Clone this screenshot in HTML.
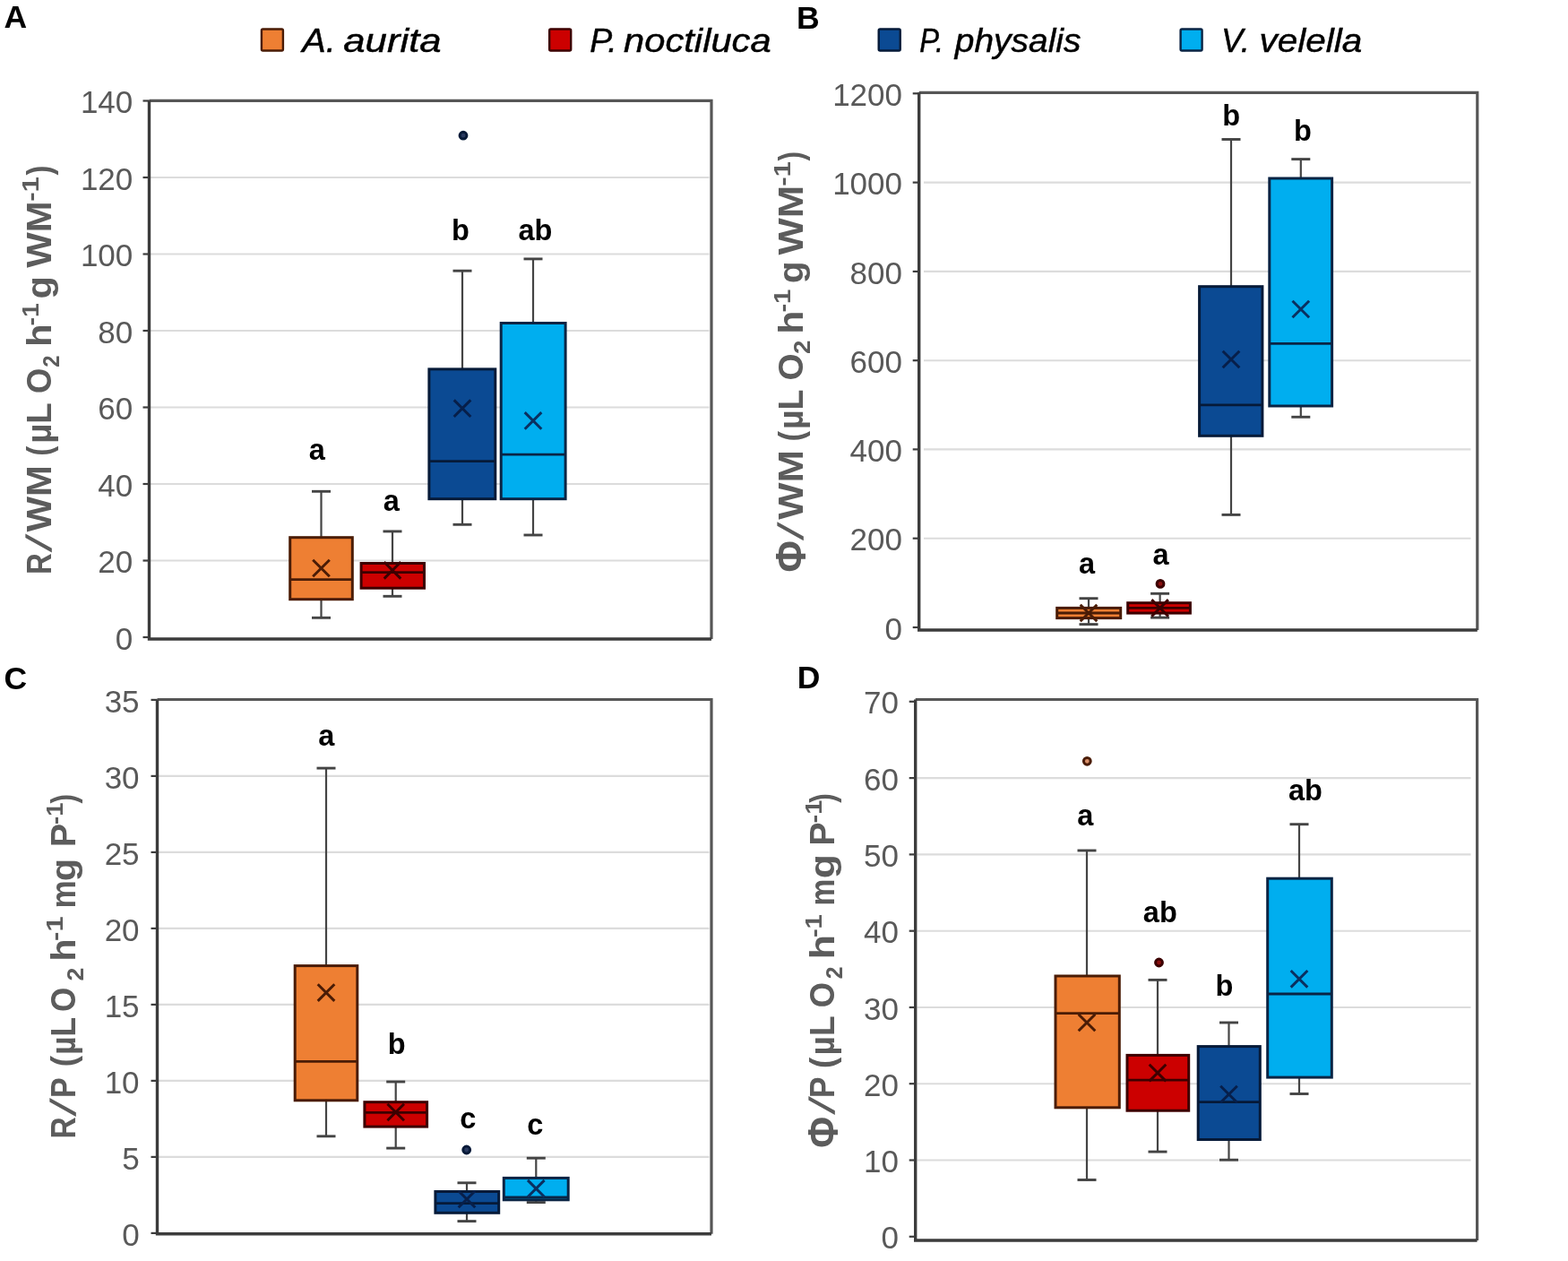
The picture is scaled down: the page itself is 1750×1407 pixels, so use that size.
<!DOCTYPE html>
<html><head><meta charset="utf-8"><title>Figure</title>
<style>
html,body{margin:0;padding:0;background:#fff;}
body{width:1750px;height:1407px;overflow:hidden;}
svg{display:block;}
text{font-family:'Liberation Sans', Arial, sans-serif;}
.tk{font-size:35px;fill:#595959;text-anchor:end;}
.sig{font-size:32.5px;font-weight:bold;fill:#000;text-anchor:middle;}
.leg{font-size:37px;font-style:italic;fill:#000;stroke:#000;stroke-width:0.45px;}
.pl{font-size:35.5px;font-weight:bold;fill:#000;}
.yt{font-size:39.5px;font-weight:bold;fill:#5c5c5c;}
</style></head>
<body>
<svg width="1750" height="1407" viewBox="0 0 1750 1407">
<rect width="1750" height="1407" fill="#fff"/>
<line x1="168.0" y1="625.5" x2="791.5" y2="625.5" stroke="#DCDCDC" stroke-width="2.1"/>
<line x1="168.0" y1="540.0" x2="791.5" y2="540.0" stroke="#DCDCDC" stroke-width="2.1"/>
<line x1="168.0" y1="454.5" x2="791.5" y2="454.5" stroke="#DCDCDC" stroke-width="2.1"/>
<line x1="168.0" y1="369.0" x2="791.5" y2="369.0" stroke="#DCDCDC" stroke-width="2.1"/>
<line x1="168.0" y1="283.5" x2="791.5" y2="283.5" stroke="#DCDCDC" stroke-width="2.1"/>
<line x1="168.0" y1="198.0" x2="791.5" y2="198.0" stroke="#DCDCDC" stroke-width="2.1"/>
<line x1="1031.0" y1="600.7" x2="1641.5" y2="600.7" stroke="#DCDCDC" stroke-width="2.1"/>
<line x1="1031.0" y1="501.4" x2="1641.5" y2="501.4" stroke="#DCDCDC" stroke-width="2.1"/>
<line x1="1031.0" y1="402.2" x2="1641.5" y2="402.2" stroke="#DCDCDC" stroke-width="2.1"/>
<line x1="1031.0" y1="302.9" x2="1641.5" y2="302.9" stroke="#DCDCDC" stroke-width="2.1"/>
<line x1="1031.0" y1="203.6" x2="1641.5" y2="203.6" stroke="#DCDCDC" stroke-width="2.1"/>
<line x1="177.0" y1="1290.9" x2="791.5" y2="1290.9" stroke="#DCDCDC" stroke-width="2.1"/>
<line x1="177.0" y1="1205.9" x2="791.5" y2="1205.9" stroke="#DCDCDC" stroke-width="2.1"/>
<line x1="177.0" y1="1120.9" x2="791.5" y2="1120.9" stroke="#DCDCDC" stroke-width="2.1"/>
<line x1="177.0" y1="1035.9" x2="791.5" y2="1035.9" stroke="#DCDCDC" stroke-width="2.1"/>
<line x1="177.0" y1="950.9" x2="791.5" y2="950.9" stroke="#DCDCDC" stroke-width="2.1"/>
<line x1="177.0" y1="865.9" x2="791.5" y2="865.9" stroke="#DCDCDC" stroke-width="2.1"/>
<line x1="1023.5" y1="1294.5" x2="1641.5" y2="1294.5" stroke="#DCDCDC" stroke-width="2.1"/>
<line x1="1023.5" y1="1209.2" x2="1641.5" y2="1209.2" stroke="#DCDCDC" stroke-width="2.1"/>
<line x1="1023.5" y1="1124.0" x2="1641.5" y2="1124.0" stroke="#DCDCDC" stroke-width="2.1"/>
<line x1="1023.5" y1="1038.7" x2="1641.5" y2="1038.7" stroke="#DCDCDC" stroke-width="2.1"/>
<line x1="1023.5" y1="953.4" x2="1641.5" y2="953.4" stroke="#DCDCDC" stroke-width="2.1"/>
<line x1="1023.5" y1="868.1" x2="1641.5" y2="868.1" stroke="#DCDCDC" stroke-width="2.1"/>
<path d="M166.5 112.3 H794.0 V713.0" fill="none" stroke="#565656" stroke-width="3.2"/>
<path d="M166.5 112.3 V713.0 H794.0" fill="none" stroke="#3C3C3C" stroke-width="3.4"/>
<line x1="159.5" y1="711.0" x2="166.5" y2="711.0" stroke="#3C3C3C" stroke-width="2.2"/>
<text x="148.3" y="724.6" class="tk">0</text>
<line x1="159.5" y1="625.5" x2="166.5" y2="625.5" stroke="#3C3C3C" stroke-width="2.2"/>
<text x="148.3" y="639.1" class="tk">20</text>
<line x1="159.5" y1="540.0" x2="166.5" y2="540.0" stroke="#3C3C3C" stroke-width="2.2"/>
<text x="148.3" y="553.6" class="tk">40</text>
<line x1="159.5" y1="454.5" x2="166.5" y2="454.5" stroke="#3C3C3C" stroke-width="2.2"/>
<text x="148.3" y="468.1" class="tk">60</text>
<line x1="159.5" y1="369.0" x2="166.5" y2="369.0" stroke="#3C3C3C" stroke-width="2.2"/>
<text x="148.3" y="382.6" class="tk">80</text>
<line x1="159.5" y1="283.5" x2="166.5" y2="283.5" stroke="#3C3C3C" stroke-width="2.2"/>
<text x="148.3" y="297.1" class="tk">100</text>
<line x1="159.5" y1="198.0" x2="166.5" y2="198.0" stroke="#3C3C3C" stroke-width="2.2"/>
<text x="148.3" y="211.6" class="tk">120</text>
<line x1="159.5" y1="112.5" x2="166.5" y2="112.5" stroke="#3C3C3C" stroke-width="2.2"/>
<text x="148.3" y="126.1" class="tk">140</text>
<path d="M1025.7 103.3 H1648.8 V703.0" fill="none" stroke="#565656" stroke-width="3.2"/>
<path d="M1025.7 103.3 V703.0 H1648.8" fill="none" stroke="#3C3C3C" stroke-width="3.4"/>
<line x1="1018.7" y1="700.0" x2="1025.7" y2="700.0" stroke="#3C3C3C" stroke-width="2.2"/>
<text x="1007.0" y="713.6" class="tk">0</text>
<line x1="1018.7" y1="600.7" x2="1025.7" y2="600.7" stroke="#3C3C3C" stroke-width="2.2"/>
<text x="1007.0" y="614.3" class="tk">200</text>
<line x1="1018.7" y1="501.4" x2="1025.7" y2="501.4" stroke="#3C3C3C" stroke-width="2.2"/>
<text x="1007.0" y="515.0" class="tk">400</text>
<line x1="1018.7" y1="402.2" x2="1025.7" y2="402.2" stroke="#3C3C3C" stroke-width="2.2"/>
<text x="1007.0" y="415.8" class="tk">600</text>
<line x1="1018.7" y1="302.9" x2="1025.7" y2="302.9" stroke="#3C3C3C" stroke-width="2.2"/>
<text x="1007.0" y="316.5" class="tk">800</text>
<line x1="1018.7" y1="203.6" x2="1025.7" y2="203.6" stroke="#3C3C3C" stroke-width="2.2"/>
<text x="1007.0" y="217.2" class="tk">1000</text>
<line x1="1018.7" y1="104.3" x2="1025.7" y2="104.3" stroke="#3C3C3C" stroke-width="2.2"/>
<text x="1007.0" y="117.9" class="tk">1200</text>
<path d="M175.5 780.5 H794.0 V1376.7" fill="none" stroke="#565656" stroke-width="3.2"/>
<path d="M175.5 780.5 V1376.7 H794.0" fill="none" stroke="#3C3C3C" stroke-width="3.4"/>
<line x1="168.5" y1="1375.9" x2="175.5" y2="1375.9" stroke="#3C3C3C" stroke-width="2.2"/>
<text x="155.6" y="1389.5" class="tk">0</text>
<line x1="168.5" y1="1290.9" x2="175.5" y2="1290.9" stroke="#3C3C3C" stroke-width="2.2"/>
<text x="155.6" y="1304.5" class="tk">5</text>
<line x1="168.5" y1="1205.9" x2="175.5" y2="1205.9" stroke="#3C3C3C" stroke-width="2.2"/>
<text x="155.6" y="1219.5" class="tk">10</text>
<line x1="168.5" y1="1120.9" x2="175.5" y2="1120.9" stroke="#3C3C3C" stroke-width="2.2"/>
<text x="155.6" y="1134.5" class="tk">15</text>
<line x1="168.5" y1="1035.9" x2="175.5" y2="1035.9" stroke="#3C3C3C" stroke-width="2.2"/>
<text x="155.6" y="1049.5" class="tk">20</text>
<line x1="168.5" y1="950.9" x2="175.5" y2="950.9" stroke="#3C3C3C" stroke-width="2.2"/>
<text x="155.6" y="964.5" class="tk">25</text>
<line x1="168.5" y1="865.9" x2="175.5" y2="865.9" stroke="#3C3C3C" stroke-width="2.2"/>
<text x="155.6" y="879.5" class="tk">30</text>
<line x1="168.5" y1="780.9" x2="175.5" y2="780.9" stroke="#3C3C3C" stroke-width="2.2"/>
<text x="155.6" y="794.5" class="tk">35</text>
<path d="M1021.7 780.5 H1648.6 V1384.0" fill="none" stroke="#565656" stroke-width="3.2"/>
<path d="M1021.7 780.5 V1384.0 H1648.6" fill="none" stroke="#3C3C3C" stroke-width="3.4"/>
<line x1="1014.7" y1="1379.8" x2="1021.7" y2="1379.8" stroke="#3C3C3C" stroke-width="2.2"/>
<text x="1003.0" y="1393.4" class="tk">0</text>
<line x1="1014.7" y1="1294.5" x2="1021.7" y2="1294.5" stroke="#3C3C3C" stroke-width="2.2"/>
<text x="1003.0" y="1308.1" class="tk">10</text>
<line x1="1014.7" y1="1209.2" x2="1021.7" y2="1209.2" stroke="#3C3C3C" stroke-width="2.2"/>
<text x="1003.0" y="1222.8" class="tk">20</text>
<line x1="1014.7" y1="1124.0" x2="1021.7" y2="1124.0" stroke="#3C3C3C" stroke-width="2.2"/>
<text x="1003.0" y="1137.6" class="tk">30</text>
<line x1="1014.7" y1="1038.7" x2="1021.7" y2="1038.7" stroke="#3C3C3C" stroke-width="2.2"/>
<text x="1003.0" y="1052.3" class="tk">40</text>
<line x1="1014.7" y1="953.4" x2="1021.7" y2="953.4" stroke="#3C3C3C" stroke-width="2.2"/>
<text x="1003.0" y="967.0" class="tk">50</text>
<line x1="1014.7" y1="868.1" x2="1021.7" y2="868.1" stroke="#3C3C3C" stroke-width="2.2"/>
<text x="1003.0" y="881.7" class="tk">60</text>
<line x1="1014.7" y1="782.8" x2="1021.7" y2="782.8" stroke="#3C3C3C" stroke-width="2.2"/>
<text x="1003.0" y="796.4" class="tk">70</text>
<line x1="358.5" y1="599.0" x2="358.5" y2="548.3" stroke="#444444" stroke-width="2.2"/>
<line x1="358.5" y1="669.4" x2="358.5" y2="689.3" stroke="#444444" stroke-width="2.2"/>
<line x1="348.0" y1="548.3" x2="369.0" y2="548.3" stroke="#444444" stroke-width="2.9"/>
<line x1="348.0" y1="689.3" x2="369.0" y2="689.3" stroke="#444444" stroke-width="2.9"/>
<rect x="323.7" y="599.7" width="69.6" height="69.0" fill="#EE7F33" stroke="#4A1C06" stroke-width="3.0"/>
<line x1="323.7" y1="646.6" x2="393.3" y2="646.6" stroke="#4A1C06" stroke-width="2.8"/>
<path d="M349.2 624.7 L367.8 643.3 M367.8 624.7 L349.2 643.3" stroke="#4A1C06" stroke-width="3" fill="none"/>
<line x1="438.0" y1="627.8" x2="438.0" y2="592.9" stroke="#444444" stroke-width="2.2"/>
<line x1="438.0" y1="656.9" x2="438.0" y2="665.3" stroke="#444444" stroke-width="2.2"/>
<line x1="427.5" y1="592.9" x2="448.5" y2="592.9" stroke="#444444" stroke-width="2.9"/>
<line x1="427.5" y1="665.3" x2="448.5" y2="665.3" stroke="#444444" stroke-width="2.9"/>
<rect x="403.1" y="628.5" width="70.4" height="27.7" fill="#CC0000" stroke="#3C0000" stroke-width="3.0"/>
<line x1="403.1" y1="638.6" x2="473.5" y2="638.6" stroke="#3C0000" stroke-width="2.8"/>
<path d="M428.7 627.0 L447.3 645.6 M447.3 627.0 L428.7 645.6" stroke="#3C0000" stroke-width="3" fill="none"/>
<line x1="516.0" y1="411.2" x2="516.0" y2="302.2" stroke="#444444" stroke-width="2.2"/>
<line x1="516.0" y1="557.4" x2="516.0" y2="585.3" stroke="#444444" stroke-width="2.2"/>
<line x1="505.5" y1="302.2" x2="526.5" y2="302.2" stroke="#444444" stroke-width="2.9"/>
<line x1="505.5" y1="585.3" x2="526.5" y2="585.3" stroke="#444444" stroke-width="2.9"/>
<rect x="478.9" y="411.9" width="73.9" height="144.8" fill="#0B4A93" stroke="#061A38" stroke-width="3.0"/>
<line x1="478.9" y1="514.7" x2="552.8" y2="514.7" stroke="#061A38" stroke-width="2.8"/>
<path d="M506.7 446.4 L525.3 465.0 M525.3 446.4 L506.7 465.0" stroke="#071F4A" stroke-width="3" fill="none"/>
<circle cx="517.0" cy="151.2" r="3.9" fill="#2A3A60" stroke="#061A38" stroke-width="3"/>
<line x1="595.0" y1="359.8" x2="595.0" y2="288.9" stroke="#444444" stroke-width="2.2"/>
<line x1="595.0" y1="557.4" x2="595.0" y2="597.0" stroke="#444444" stroke-width="2.2"/>
<line x1="584.5" y1="288.9" x2="605.5" y2="288.9" stroke="#444444" stroke-width="2.9"/>
<line x1="584.5" y1="597.0" x2="605.5" y2="597.0" stroke="#444444" stroke-width="2.9"/>
<rect x="559.2" y="360.5" width="71.9" height="196.2" fill="#00AEEF" stroke="#0A2444" stroke-width="3.0"/>
<line x1="559.2" y1="507.1" x2="631.1" y2="507.1" stroke="#0A2444" stroke-width="2.8"/>
<path d="M585.7 460.1 L604.3 478.7 M604.3 460.1 L585.7 478.7" stroke="#0A3060" stroke-width="3" fill="none"/>
<text x="353.7" y="512.9" class="sig">a</text>
<text x="436.8" y="570.0" class="sig">a</text>
<text x="514.0" y="267.9" class="sig">b</text>
<text x="597.5" y="267.9" class="sig">ab</text>
<line x1="1215.0" y1="677.7" x2="1215.0" y2="667.7" stroke="#444444" stroke-width="2.2"/>
<line x1="1215.0" y1="690.3" x2="1215.0" y2="696.6" stroke="#444444" stroke-width="2.2"/>
<line x1="1204.5" y1="667.7" x2="1225.5" y2="667.7" stroke="#444444" stroke-width="2.9"/>
<line x1="1204.5" y1="696.6" x2="1225.5" y2="696.6" stroke="#444444" stroke-width="2.9"/>
<rect x="1179.7" y="678.4" width="71.0" height="11.2" fill="#EE7F33" stroke="#4A1C06" stroke-width="3.0"/>
<line x1="1179.7" y1="684.0" x2="1250.7" y2="684.0" stroke="#4A1C06" stroke-width="2.8"/>
<path d="M1205.7 674.7 L1224.3 693.3 M1224.3 674.7 L1205.7 693.3" stroke="#4A1C06" stroke-width="3" fill="none"/>
<line x1="1294.6" y1="672.0" x2="1294.6" y2="662.3" stroke="#444444" stroke-width="2.2"/>
<line x1="1294.6" y1="684.8" x2="1294.6" y2="689.1" stroke="#444444" stroke-width="2.2"/>
<line x1="1284.1" y1="662.3" x2="1305.1" y2="662.3" stroke="#444444" stroke-width="2.9"/>
<line x1="1284.1" y1="689.1" x2="1305.1" y2="689.1" stroke="#444444" stroke-width="2.9"/>
<rect x="1258.7" y="672.7" width="69.7" height="11.4" fill="#CC0000" stroke="#3C0000" stroke-width="3.0"/>
<line x1="1258.7" y1="678.4" x2="1328.4" y2="678.4" stroke="#3C0000" stroke-width="2.8"/>
<path d="M1285.3 669.1 L1303.9 687.7 M1303.9 669.1 L1285.3 687.7" stroke="#3C0000" stroke-width="3" fill="none"/>
<circle cx="1295.0" cy="651.4" r="3.9" fill="#8A1010" stroke="#3C0000" stroke-width="3"/>
<line x1="1374.0" y1="319.0" x2="1374.0" y2="155.5" stroke="#444444" stroke-width="2.2"/>
<line x1="1374.0" y1="487.0" x2="1374.0" y2="574.4" stroke="#444444" stroke-width="2.2"/>
<line x1="1363.5" y1="155.5" x2="1384.5" y2="155.5" stroke="#444444" stroke-width="2.9"/>
<line x1="1363.5" y1="574.4" x2="1384.5" y2="574.4" stroke="#444444" stroke-width="2.9"/>
<rect x="1338.6" y="319.7" width="70.3" height="166.6" fill="#0B4A93" stroke="#061A38" stroke-width="3.0"/>
<line x1="1338.6" y1="451.8" x2="1408.9" y2="451.8" stroke="#061A38" stroke-width="2.8"/>
<path d="M1364.7 391.7 L1383.3 410.3 M1383.3 391.7 L1364.7 410.3" stroke="#071F4A" stroke-width="3" fill="none"/>
<line x1="1451.8" y1="198.3" x2="1451.8" y2="177.6" stroke="#444444" stroke-width="2.2"/>
<line x1="1451.8" y1="453.7" x2="1451.8" y2="465.3" stroke="#444444" stroke-width="2.2"/>
<line x1="1441.3" y1="177.6" x2="1462.3" y2="177.6" stroke="#444444" stroke-width="2.9"/>
<line x1="1441.3" y1="465.3" x2="1462.3" y2="465.3" stroke="#444444" stroke-width="2.9"/>
<rect x="1416.8" y="199.0" width="69.8" height="254.0" fill="#00AEEF" stroke="#0A2444" stroke-width="3.0"/>
<line x1="1416.8" y1="383.4" x2="1486.6" y2="383.4" stroke="#0A2444" stroke-width="2.8"/>
<path d="M1442.5 335.7 L1461.1 354.3 M1461.1 335.7 L1442.5 354.3" stroke="#0A3060" stroke-width="3" fill="none"/>
<text x="1213.0" y="640.0" class="sig">a</text>
<text x="1295.5" y="629.7" class="sig">a</text>
<text x="1374.3" y="139.7" class="sig">b</text>
<text x="1454.0" y="157.3" class="sig">b</text>
<line x1="364.0" y1="1076.9" x2="364.0" y2="857.1" stroke="#444444" stroke-width="2.2"/>
<line x1="364.0" y1="1228.5" x2="364.0" y2="1267.8" stroke="#444444" stroke-width="2.2"/>
<line x1="353.5" y1="857.1" x2="374.5" y2="857.1" stroke="#444444" stroke-width="2.9"/>
<line x1="353.5" y1="1267.8" x2="374.5" y2="1267.8" stroke="#444444" stroke-width="2.9"/>
<rect x="329.2" y="1077.6" width="69.6" height="150.2" fill="#EE7F33" stroke="#4A1C06" stroke-width="3.0"/>
<line x1="329.2" y1="1184.4" x2="398.8" y2="1184.4" stroke="#4A1C06" stroke-width="2.8"/>
<path d="M354.7 1098.3 L373.3 1116.9 M373.3 1098.3 L354.7 1116.9" stroke="#4A1C06" stroke-width="3" fill="none"/>
<line x1="441.7" y1="1229.0" x2="441.7" y2="1207.0" stroke="#444444" stroke-width="2.2"/>
<line x1="441.7" y1="1257.8" x2="441.7" y2="1281.1" stroke="#444444" stroke-width="2.2"/>
<line x1="431.2" y1="1207.0" x2="452.2" y2="1207.0" stroke="#444444" stroke-width="2.9"/>
<line x1="431.2" y1="1281.1" x2="452.2" y2="1281.1" stroke="#444444" stroke-width="2.9"/>
<rect x="406.9" y="1229.7" width="69.7" height="27.4" fill="#CC0000" stroke="#3C0000" stroke-width="3.0"/>
<line x1="406.9" y1="1241.4" x2="476.6" y2="1241.4" stroke="#3C0000" stroke-width="2.8"/>
<path d="M432.4 1231.7 L451.0 1250.3 M451.0 1231.7 L432.4 1250.3" stroke="#3C0000" stroke-width="3" fill="none"/>
<line x1="521.0" y1="1328.8" x2="521.0" y2="1319.8" stroke="#444444" stroke-width="2.2"/>
<line x1="521.0" y1="1354.0" x2="521.0" y2="1362.6" stroke="#444444" stroke-width="2.2"/>
<line x1="510.5" y1="1319.8" x2="531.5" y2="1319.8" stroke="#444444" stroke-width="2.9"/>
<line x1="510.5" y1="1362.6" x2="531.5" y2="1362.6" stroke="#444444" stroke-width="2.9"/>
<rect x="485.9" y="1329.5" width="70.8" height="23.8" fill="#0B4A93" stroke="#061A38" stroke-width="3.0"/>
<line x1="485.9" y1="1342.6" x2="556.7" y2="1342.6" stroke="#061A38" stroke-width="2.8"/>
<path d="M511.7 1328.7 L530.3 1347.3 M530.3 1328.7 L511.7 1347.3" stroke="#071F4A" stroke-width="3" fill="none"/>
<circle cx="520.7" cy="1283.0" r="3.9" fill="#2A3A60" stroke="#061A38" stroke-width="3"/>
<line x1="598.3" y1="1313.7" x2="598.3" y2="1292.2" stroke="#444444" stroke-width="2.2"/>
<line x1="598.3" y1="1339.5" x2="598.3" y2="1341.6" stroke="#444444" stroke-width="2.2"/>
<line x1="587.8" y1="1292.2" x2="608.8" y2="1292.2" stroke="#444444" stroke-width="2.9"/>
<line x1="587.8" y1="1341.6" x2="608.8" y2="1341.6" stroke="#444444" stroke-width="2.9"/>
<rect x="562.3" y="1314.4" width="71.9" height="24.4" fill="#00AEEF" stroke="#0A2444" stroke-width="3.0"/>
<line x1="562.3" y1="1335.8" x2="634.2" y2="1335.8" stroke="#0A2444" stroke-width="2.8"/>
<path d="M589.0 1316.9 L607.6 1335.5 M607.6 1316.9 L589.0 1335.5" stroke="#0A3060" stroke-width="3" fill="none"/>
<text x="364.4" y="832.4" class="sig">a</text>
<text x="442.8" y="1176.1" class="sig">b</text>
<text x="522.3" y="1259.3" class="sig">c</text>
<text x="597.3" y="1266.4" class="sig">c</text>
<line x1="1213.0" y1="1088.3" x2="1213.0" y2="949.0" stroke="#444444" stroke-width="2.2"/>
<line x1="1213.0" y1="1236.5" x2="1213.0" y2="1316.5" stroke="#444444" stroke-width="2.2"/>
<line x1="1202.5" y1="949.0" x2="1223.5" y2="949.0" stroke="#444444" stroke-width="2.9"/>
<line x1="1202.5" y1="1316.5" x2="1223.5" y2="1316.5" stroke="#444444" stroke-width="2.9"/>
<rect x="1178.0" y="1089.0" width="71.3" height="146.8" fill="#EE7F33" stroke="#4A1C06" stroke-width="3.0"/>
<line x1="1178.0" y1="1130.6" x2="1249.3" y2="1130.6" stroke="#4A1C06" stroke-width="2.8"/>
<path d="M1203.7 1131.7 L1222.3 1150.3 M1222.3 1131.7 L1203.7 1150.3" stroke="#4A1C06" stroke-width="3" fill="none"/>
<circle cx="1213.3" cy="849.3" r="3.9" fill="#D9906A" stroke="#4A1C06" stroke-width="3"/>
<line x1="1292.0" y1="1176.7" x2="1292.0" y2="1093.4" stroke="#444444" stroke-width="2.2"/>
<line x1="1292.0" y1="1239.9" x2="1292.0" y2="1285.1" stroke="#444444" stroke-width="2.2"/>
<line x1="1281.5" y1="1093.4" x2="1302.5" y2="1093.4" stroke="#444444" stroke-width="2.9"/>
<line x1="1281.5" y1="1285.1" x2="1302.5" y2="1285.1" stroke="#444444" stroke-width="2.9"/>
<rect x="1258.0" y="1177.4" width="68.7" height="61.8" fill="#CC0000" stroke="#3C0000" stroke-width="3.0"/>
<line x1="1258.0" y1="1205.1" x2="1326.7" y2="1205.1" stroke="#3C0000" stroke-width="2.8"/>
<path d="M1282.7 1187.8 L1301.3 1206.4 M1301.3 1187.8 L1282.7 1206.4" stroke="#3C0000" stroke-width="3" fill="none"/>
<circle cx="1293.5" cy="1074.0" r="3.9" fill="#8A1010" stroke="#3C0000" stroke-width="3"/>
<line x1="1371.5" y1="1166.9" x2="1371.5" y2="1141.0" stroke="#444444" stroke-width="2.2"/>
<line x1="1371.5" y1="1272.2" x2="1371.5" y2="1294.2" stroke="#444444" stroke-width="2.2"/>
<line x1="1361.0" y1="1141.0" x2="1382.0" y2="1141.0" stroke="#444444" stroke-width="2.9"/>
<line x1="1361.0" y1="1294.2" x2="1382.0" y2="1294.2" stroke="#444444" stroke-width="2.9"/>
<rect x="1337.2" y="1167.6" width="69.1" height="103.9" fill="#0B4A93" stroke="#061A38" stroke-width="3.0"/>
<line x1="1337.2" y1="1229.6" x2="1406.3" y2="1229.6" stroke="#061A38" stroke-width="2.8"/>
<path d="M1362.2 1211.7 L1380.8 1230.3 M1380.8 1211.7 L1362.2 1230.3" stroke="#071F4A" stroke-width="3" fill="none"/>
<line x1="1450.0" y1="979.5" x2="1450.0" y2="919.7" stroke="#444444" stroke-width="2.2"/>
<line x1="1450.0" y1="1202.8" x2="1450.0" y2="1220.5" stroke="#444444" stroke-width="2.2"/>
<line x1="1439.5" y1="919.7" x2="1460.5" y2="919.7" stroke="#444444" stroke-width="2.9"/>
<line x1="1439.5" y1="1220.5" x2="1460.5" y2="1220.5" stroke="#444444" stroke-width="2.9"/>
<rect x="1414.7" y="980.2" width="71.6" height="221.9" fill="#00AEEF" stroke="#0A2444" stroke-width="3.0"/>
<line x1="1414.7" y1="1109.0" x2="1486.3" y2="1109.0" stroke="#0A2444" stroke-width="2.8"/>
<path d="M1440.7 1083.0 L1459.3 1101.6 M1459.3 1083.0 L1440.7 1101.6" stroke="#0A3060" stroke-width="3" fill="none"/>
<text x="1211.3" y="921.3" class="sig">a</text>
<text x="1294.8" y="1028.7" class="sig">ab</text>
<text x="1366.5" y="1110.7" class="sig">b</text>
<text x="1457.0" y="893.2" class="sig">ab</text>
<rect x="291.9" y="32.5" width="24" height="24" rx="1.5" fill="#EE7F33" stroke="#4A1C06" stroke-width="2.4"/>
<text x="337.3" y="57.5" class="leg" textLength="37.5" lengthAdjust="spacingAndGlyphs">A.</text>
<text x="383.3" y="57.5" class="leg" textLength="109.4" lengthAdjust="spacingAndGlyphs">aurita</text>
<rect x="613.2" y="32.5" width="24" height="24" rx="1.5" fill="#CC0000" stroke="#3C0000" stroke-width="2.4"/>
<text x="658.2" y="57.5" class="leg" textLength="30.6" lengthAdjust="spacingAndGlyphs">P.</text>
<text x="696.1" y="57.5" class="leg" textLength="164.5" lengthAdjust="spacingAndGlyphs">noctiluca</text>
<rect x="980.7" y="32.5" width="24" height="24" rx="1.5" fill="#0B4A93" stroke="#061A38" stroke-width="2.4"/>
<text x="1026.3" y="57.5" class="leg" textLength="26.7" lengthAdjust="spacingAndGlyphs">P.</text>
<text x="1065.8" y="57.5" class="leg" textLength="140.6" lengthAdjust="spacingAndGlyphs">physalis</text>
<rect x="1317.6" y="32.5" width="24" height="24" rx="1.5" fill="#00AEEF" stroke="#0A2444" stroke-width="2.4"/>
<text x="1363.1" y="57.5" class="leg" textLength="31.8" lengthAdjust="spacingAndGlyphs">V.</text>
<text x="1405.4" y="57.5" class="leg" textLength="114.8" lengthAdjust="spacingAndGlyphs">velella</text>
<text x="4.6" y="30.5" class="pl">A</text>
<text x="888.9" y="31.7" class="pl">B</text>
<text x="4.4" y="768.5" class="pl">C</text>
<text x="889.8" y="767.7" class="pl">D</text>
<g transform="translate(57,1407) rotate(-90)" class="yt">
<text x="766.1" y="0" textLength="23.8" lengthAdjust="spacingAndGlyphs">R</text>
<text transform="translate(790.6,0) skewX(-20)" x="0" y="0">/</text>
<text x="813.6" y="0" textLength="74.2" lengthAdjust="spacingAndGlyphs">WM</text>
<text x="898.3" y="0" textLength="11.1" lengthAdjust="spacingAndGlyphs">(</text>
<text x="912.2" y="0" textLength="45.5" lengthAdjust="spacingAndGlyphs">µL</text>
<text x="968.0" y="0" textLength="28.3" lengthAdjust="spacingAndGlyphs">O</text>
<text x="997.2" y="8.5" font-size="25" textLength="13.3" lengthAdjust="spacingAndGlyphs">2</text>
<text x="1020.1" y="0" textLength="25.5" lengthAdjust="spacingAndGlyphs">h</text>
<text x="1043.6" y="-14" font-size="25" textLength="25.4" lengthAdjust="spacingAndGlyphs">-1</text>
<text x="1073.5" y="0" textLength="25.4" lengthAdjust="spacingAndGlyphs">g</text>
<text x="1108.3" y="0" textLength="74.2" lengthAdjust="spacingAndGlyphs">WM</text>
<text x="1182.2" y="-14" font-size="25" textLength="27.8" lengthAdjust="spacingAndGlyphs">-1</text>
<text x="1211.5" y="0" textLength="10.9" lengthAdjust="spacingAndGlyphs">)</text>
</g>
<g transform="translate(895.5,1407) rotate(-90)" class="yt">
<text transform="translate(786.3,-13.1) scale(1.093,1.222)" x="-16.2" y="13.6">Φ</text>
<text transform="translate(803.8,0) skewX(-20)" x="0" y="0">/</text>
<text x="827.3" y="0" textLength="77.7" lengthAdjust="spacingAndGlyphs">WM</text>
<text x="914.5" y="0" textLength="11.6" lengthAdjust="spacingAndGlyphs">(</text>
<text x="927.9" y="0" textLength="44.5" lengthAdjust="spacingAndGlyphs">µL</text>
<text x="982.4" y="0" textLength="30.2" lengthAdjust="spacingAndGlyphs">O</text>
<text x="1012.0" y="8.5" font-size="25" textLength="15.4" lengthAdjust="spacingAndGlyphs">2</text>
<text x="1034.3" y="0" textLength="26.1" lengthAdjust="spacingAndGlyphs">h</text>
<text x="1058.4" y="-14" font-size="25" textLength="26.0" lengthAdjust="spacingAndGlyphs">-1</text>
<text x="1090.7" y="0" textLength="24.9" lengthAdjust="spacingAndGlyphs">g</text>
<text x="1122.6" y="0" textLength="77.6" lengthAdjust="spacingAndGlyphs">WM</text>
<text x="1199.2" y="-14" font-size="25" textLength="27.8" lengthAdjust="spacingAndGlyphs">-1</text>
<text x="1227.4" y="0" textLength="10.5" lengthAdjust="spacingAndGlyphs">)</text>
</g>
<g transform="translate(84,1407) rotate(-90)" class="yt">
<text x="136.5" y="0" textLength="24.2" lengthAdjust="spacingAndGlyphs">R</text>
<text transform="translate(161.0,0) skewX(-20)" x="0" y="0">/</text>
<text x="181.9" y="0" textLength="22.6" lengthAdjust="spacingAndGlyphs">P</text>
<text x="216.4" y="0" textLength="12.6" lengthAdjust="spacingAndGlyphs">(</text>
<text x="230.2" y="0" textLength="41.8" lengthAdjust="spacingAndGlyphs">µL</text>
<text x="278.0" y="0" textLength="27.1" lengthAdjust="spacingAndGlyphs">O</text>
<text x="312.6" y="8.5" font-size="25" textLength="14.8" lengthAdjust="spacingAndGlyphs">2</text>
<text x="334.5" y="0" textLength="25.0" lengthAdjust="spacingAndGlyphs">h</text>
<text x="357.1" y="-14" font-size="25" textLength="27.5" lengthAdjust="spacingAndGlyphs">-1</text>
<text x="393.4" y="0" textLength="31.3" lengthAdjust="spacingAndGlyphs">m</text>
<text x="423.8" y="0" textLength="25.4" lengthAdjust="spacingAndGlyphs">g</text>
<text x="461.7" y="0" textLength="26.4" lengthAdjust="spacingAndGlyphs">P</text>
<text x="487.1" y="-14" font-size="25" textLength="24.2" lengthAdjust="spacingAndGlyphs">-1</text>
<text x="510.6" y="0" textLength="10.5" lengthAdjust="spacingAndGlyphs">)</text>
</g>
<g transform="translate(931,1407) rotate(-90)" class="yt">
<text transform="translate(143.5,-13.1) scale(1.070,1.222)" x="-16.2" y="13.6">Φ</text>
<text transform="translate(162.9,0) skewX(-20)" x="0" y="0">/</text>
<text x="181.8" y="0" textLength="23.8" lengthAdjust="spacingAndGlyphs">P</text>
<text x="215.1" y="0" textLength="12.4" lengthAdjust="spacingAndGlyphs">(</text>
<text x="229.6" y="0" textLength="43.9" lengthAdjust="spacingAndGlyphs">µL</text>
<text x="282.7" y="0" textLength="28.4" lengthAdjust="spacingAndGlyphs">O</text>
<text x="314.7" y="8.5" font-size="25" textLength="13.7" lengthAdjust="spacingAndGlyphs">2</text>
<text x="336.6" y="0" textLength="27.5" lengthAdjust="spacingAndGlyphs">h</text>
<text x="360.9" y="-14" font-size="25" textLength="26.0" lengthAdjust="spacingAndGlyphs">-1</text>
<text x="396.4" y="0" textLength="29.7" lengthAdjust="spacingAndGlyphs">m</text>
<text x="426.7" y="0" textLength="27.2" lengthAdjust="spacingAndGlyphs">g</text>
<text x="463.2" y="0" textLength="26.4" lengthAdjust="spacingAndGlyphs">P</text>
<text x="488.6" y="-14" font-size="25" textLength="25.8" lengthAdjust="spacingAndGlyphs">-1</text>
<text x="511.3" y="0" textLength="10.5" lengthAdjust="spacingAndGlyphs">)</text>
</g>
</svg>
</body></html>
